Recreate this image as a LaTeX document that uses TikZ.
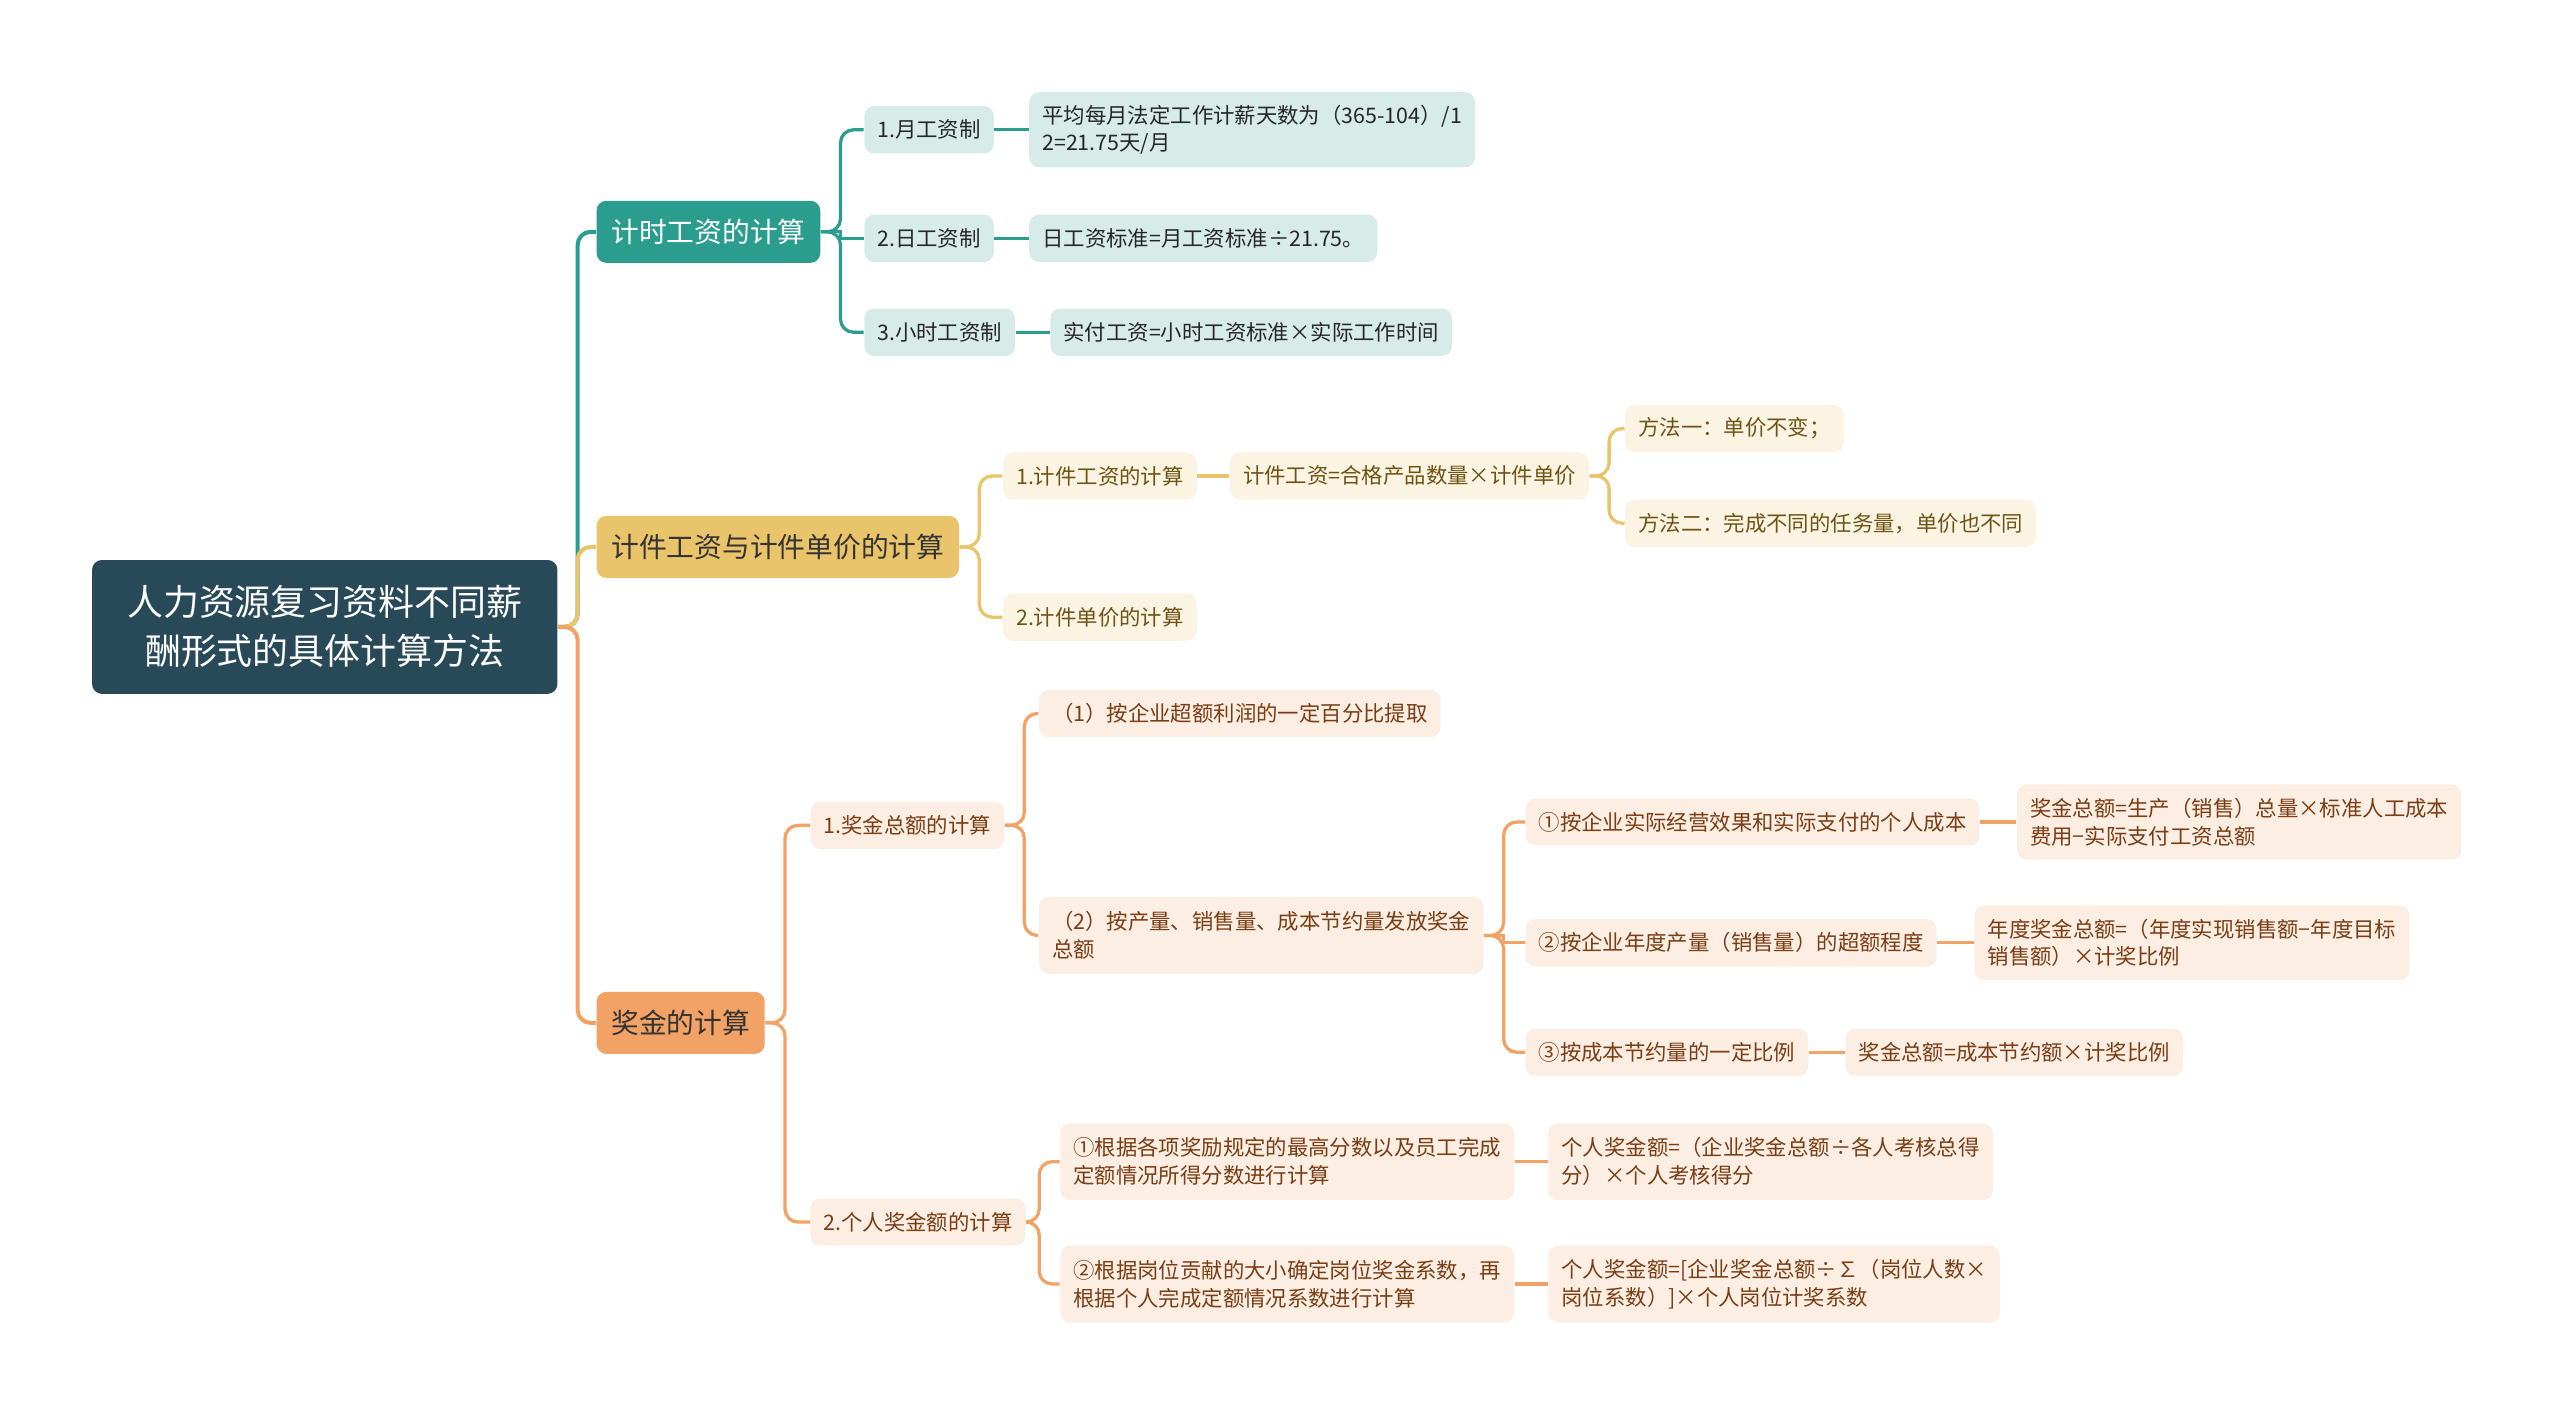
\documentclass[tikz,border=0pt]{standalone}
\usepackage{fontspec}
\setmainfont{Noto Sans CJK SC}
\definecolor{rootfill}{HTML}{284A58}
\definecolor{tealc}{HTML}{2A9D8F}
\definecolor{tealfill}{HTML}{D7ECE9}
\definecolor{yelc}{HTML}{E9C46A}
\definecolor{yelfill}{HTML}{FCF4E2}
\definecolor{yeltext}{HTML}{6E5414}
\definecolor{orc}{HTML}{F2A265}
\definecolor{orfill}{HTML}{FDEEE3}
\definecolor{ortext}{HTML}{7A3D14}

\begin{document}
\begin{tikzpicture}[x=0.5pt,y=0.5pt,yscale=-1,xscale=1,
  rootbox/.style={anchor=west,fill=rootfill,text=white,rounded corners=3pt,minimum width=142.5pt,minimum height=41pt,align=center,font=\fontsize{11}{15}\selectfont},
  mainbox/.style={anchor=west,rounded corners=3pt,minimum height=19pt,inner xsep=4.5pt,font=\fontsize{8.5}{10}\selectfont},
  subbox/.style={anchor=west,rounded corners=3pt,minimum height=14.5pt,inner xsep=4pt,align=left,font=\fontsize{6.55}{8.5}\selectfont},
  tsub/.style={subbox,fill=tealfill,text=black!85},
  ysub/.style={subbox,fill=yelfill,text=yeltext},
  osub/.style={subbox,fill=orfill,text=ortext},
  tline/.style={draw=tealc,line width=1pt,rounded corners=4pt},
  yline/.style={draw=yelc,line width=1pt,rounded corners=4pt},
  oline/.style={draw=orc,line width=1pt,rounded corners=4pt}]
\useasboundingbox (0,0) rectangle (1568,866);

% Root
\node [rootbox] (root) at (56,384) {人力资源复习资料不同薪\\酬形式的具体计算方法};

% Main Nodes
\node [mainbox,fill=tealc,text=white] (timewage) at (365,142) {计时工资的计算};
\node [mainbox,fill=yelc,text=black!80] (piecewage) at (365,335) {计件工资与计件单价的计算};
\node [mainbox,fill=orc,text=black!80] (bonus) at (365,626.5) {奖金的计算};

% Text Node -- time wage
\node [tsub] (month) at (529,79.5) {1.月工资制};
\node [tsub] (day) at (529,146) {2.日工资制};
\node [tsub] (hour) at (529,203.5) {3.小时工资制};
\node [tsub,minimum height=23pt] (monthrule) at (630,79.5) {平均每月法定工作计薪天数为（365-104）/1\\2=21.75天/月};
\node [tsub] (dayrule) at (630,146) {日工资标准=月工资标准÷21.75。};
\node [tsub] (hourrule) at (643,203.5) {实付工资=小时工资标准×实际工作时间};

% Text Node -- piece wage
\node [ysub] (pieceone) at (614,291.5) {1.计件工资的计算};
\node [ysub] (piecetwo) at (614,378) {2.计件单价的计算};
\node [ysub] (piecerule) at (753,291.5) {计件工资=合格产品数量×计件单价};
\node [ysub] (wayone) at (995,262.5) {方法一：单价不变；};
\node [ysub] (waytwo) at (995,320.5) {方法二：完成不同的任务量，单价也不同};

% Text Node -- bonus
\node [osub] (total) at (496,505.5) {1.奖金总额的计算};
\node [osub] (person) at (496,748.5) {2.个人奖金额的计算};
\node [osub] (profit) at (636,437) {（1）按企业超额利润的一定百分比提取};
\node [osub,minimum height=23.5pt] (output) at (636,573) {（2）按产量、销售量、成本节约量发放奖金\\总额};
\node [osub] (costeff) at (934,503.5) {①按企业实际经营效果和实际支付的个人成本};
\node [osub] (excess) at (934,577.5) {②按企业年度产量（销售量）的超额程度};
\node [osub] (saving) at (934,644.5) {③按成本节约量的一定比例};
\node [osub,minimum height=23pt] (costrule) at (1235,503.5) {奖金总额=生产（销售）总量×标准人工成本\\费用−实际支付工资总额};
\node [osub,minimum height=23pt] (excessrule) at (1209,577.5) {年度奖金总额=（年度实现销售额−年度目标\\销售额）×计奖比例};
\node [osub] (savingrule) at (1130,644.5) {奖金总额=成本节约额×计奖比例};
\node [osub,minimum height=23.5pt] (score) at (649,711.5) {①根据各项奖励规定的最高分数以及员工完成\\定额情况所得分数进行计算};
\node [osub,minimum height=23.5pt] (post) at (649,786.5) {②根据岗位贡献的大小确定岗位奖金系数，再\\根据个人完成定额情况系数进行计算};
\node [osub,minimum height=23.5pt] (scorerule) at (948,711.5) {个人奖金额=（企业奖金总额÷各人考核总得\\分）×个人考核得分};
\node [osub,minimum height=23.5pt] (postrule) at (948,786.5) {个人奖金额=[企业奖金总额÷∑（岗位人数×\\岗位系数）]×个人岗位计奖系数};

%Straight Lines -- root
\draw [tline,line width=1.25pt] (root.east) -- ++(12,0) |- (timewage.west);
\draw [yline,line width=1.25pt] (root.east) -- ++(12,0) |- (piecewage.west);
\draw [oline,line width=1.25pt] (root.east) -- ++(12,0) |- (bonus.west);

%Straight Lines -- time wage
\draw [tline] (timewage.east) -- ++(12,0) |- (month.west);
\draw [tline,sharp corners] (timewage.east) -- ++(12,0) |- (day.west);
\draw [tline] (timewage.east) -- ++(12,0) |- (hour.west);
\draw [tline] (month) -- (monthrule);
\draw [tline] (day) -- (dayrule);
\draw [tline] (hour) -- (hourrule);

%Straight Lines -- piece wage
\draw [yline] (piecewage.east) -- ++(12,0) |- (pieceone.west);
\draw [yline] (piecewage.east) -- ++(12,0) |- (piecetwo.west);
\draw [yline] (pieceone) -- (piecerule);
\draw [yline] (piecerule.east) -- ++(12,0) |- (wayone.west);
\draw [yline] (piecerule.east) -- ++(12,0) |- (waytwo.west);

%Straight Lines -- bonus
\draw [oline] (bonus.east) -- ++(12,0) |- (total.west);
\draw [oline] (bonus.east) -- ++(12,0) |- (person.west);
\draw [oline] (total.east) -- ++(12,0) |- (profit.west);
\draw [oline] (total.east) -- ++(12,0) |- (output.west);
\draw [oline] (output.east) -- ++(12,0) |- (costeff.west);
\draw [oline,sharp corners] (output.east) -- ++(12,0) |- (excess.west);
\draw [oline] (output.east) -- ++(12,0) |- (saving.west);
\draw [oline] (costeff) -- (costrule);
\draw [oline] (excess) -- (excessrule);
\draw [oline] (saving) -- (savingrule);
\draw [oline] (person.east) -- ++(8,0) |- (score.west);
\draw [oline] (person.east) -- ++(8,0) |- (post.west);
\draw [oline] (score) -- (scorerule);
\draw [oline] (post) -- (postrule);

\end{tikzpicture}
\end{document}
